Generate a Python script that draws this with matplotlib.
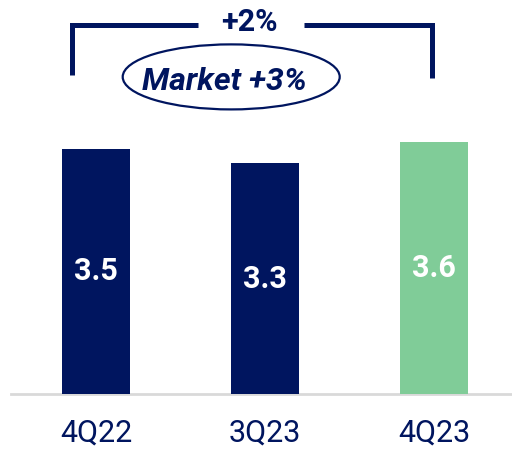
import matplotlib
matplotlib.use("Agg")
import matplotlib.pyplot as plt
from matplotlib.patches import Ellipse

plt.rcParams['font.family'] = ['Roboto', 'DejaVu Sans']

quarters = ['4Q22', '3Q23', '4Q23']
values = [3.5, 3.3, 3.6]
bar_colors = ['#00155f', '#00155f', '#80cc98']
change_label = '+2%'
market_label = 'Market +3%'

navy = '#00155f'

fig = plt.figure(figsize=(5.12, 4.49), dpi=100)
ax = fig.add_axes([0, 55 / 449, 1, 394 / 449])

x = list(range(len(quarters)))
ax.bar(x, values, width=68 / 169, color=bar_colors, zorder=2)

for xi, v in zip(x, values):
    ax.text(xi, v / 2, f'{v:.1f}', ha='center', va='center', color='white',
            fontsize=22, fontweight='bold')

ax.set_xlim(-96 / 169, 416 / 169)
ax.set_ylim(0, 394 / 70)
ax.set_xticks(x)
ax.set_xticklabels(quarters, fontsize=22, color=navy)
ax.tick_params(axis='x', length=0, pad=18)
ax.set_yticks([])
for s in ax.spines.values():
    s.set_visible(False)
ax.axhline(0, xmin=11 / 512, xmax=1, color='#d9d9d9', lw=2, zorder=1, clip_on=False)

# bracket between first and last bar
lx, rx = x[0] - 0.142, x[-1] - 0.012
top, bot = 5.27, 4.56
lw = 3.6
ax.plot([lx, lx, 0.604], [bot, top, top], color=navy, lw=lw, clip_on=False,
        solid_capstyle='butt', solid_joinstyle='miter')
ax.plot([1.231, rx, rx], [top, top, bot - 0.04], color=navy, lw=lw, clip_on=False,
        solid_capstyle='butt', solid_joinstyle='miter')
ax.text(0.905, top + 0.04, change_label, ha='center', va='center', color=navy,
        fontsize=22, fontweight='bold')

ax.add_patch(Ellipse((0.80, 4.53), 1.284, 0.929, fill=False, edgecolor=navy,
                     lw=1.6, clip_on=False))
ax.text(0.757, 4.46, market_label, ha='center', va='center', color=navy,
        fontsize=23, fontweight='bold', fontstyle='italic')

fig.savefig('out.png', dpi=100)
